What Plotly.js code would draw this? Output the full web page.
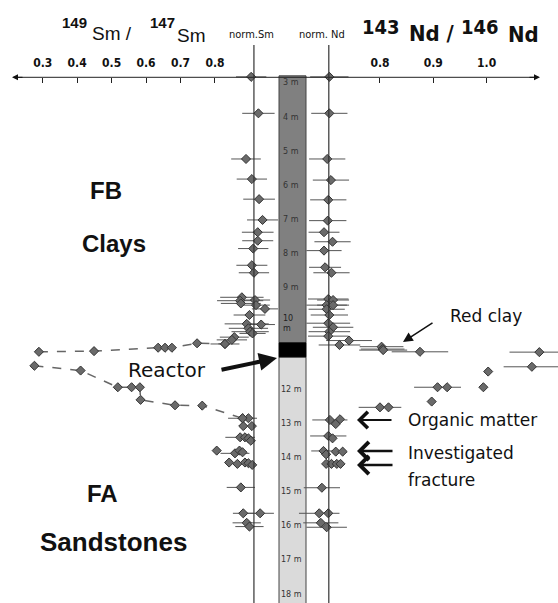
<!DOCTYPE html>
<html>
<head>
<meta charset="utf-8">
<script src="https://cdn.plot.ly/plotly-3.0.1.min.js"></script>
<style>html,body{margin:0;padding:0;background:#fff;}#chart{width:558px;height:603px;}</style>
</head>
<body>
<div id="chart"></div>
<script>
// ---------- DATA ----------
// 149Sm/147Sm measurements (depth in m, ratio, +/- error)
const smDepth = [2.82,3.89,5.23,5.82,6.41,7.02,7.38,7.63,7.86,8.35,8.57,
  9.29,9.39,9.37,9.47,9.52,9.63,9.81,10.07,10.09,10.20,10.30,10.35,10.46,10.54,10.66,
  12.84,12.84,13.07,13.07,13.40,13.40,13.43,13.50,13.79,13.87,13.79,13.84,14.14,14.18,14.14,14.16,14.21,14.87,15.63,15.63,15.91,16.02];
const smValue = [0.905,0.926,0.890,0.907,0.928,0.938,0.924,0.924,0.911,0.907,0.913,
  0.878,0.873,0.916,0.875,0.919,0.945,0.900,0.892,0.934,0.897,0.902,0.909,0.856,0.849,0.829,
  0.880,0.897,0.882,0.907,0.873,0.887,0.897,0.904,0.805,0.858,0.871,0.880,0.841,0.865,0.887,0.897,0.908,0.875,0.882,0.931,0.892,0.900];
const smErr = [0.044,0.047,0.043,0.044,0.046,0.045,0.046,0.045,0.044,0.045,0.044,
  0.063,0.067,0.044,0.058,0.040,0.038,0.046,0.064,0.040,0.057,0.054,0.038,0.042,0.044,0.042,
  0.042,0,0,0,0.043,0,0,0,0,0.042,0,0,0,0,0,0,0,0.041,0.03,0.04,0.041,0.041];
// reactor-zone Sm series (dashed)
const smReactorUpperDepth = [10.89,10.87,10.77,10.77,10.77,10.64,10.66];
const smReactorUpperValue = [0.289,0.449,0.635,0.655,0.675,0.748,0.829];
const smReactorLowerDepth = [11.30,11.44,11.93,11.93,11.93,12.30,12.46,12.47,12.84];
const smReactorLowerValue = [0.276,0.410,0.518,0.558,0.582,0.584,0.684,0.763,0.880];

// 143Nd/146Nd measurements
const ndDepth = [2.82,3.89,5.23,5.85,6.43,7.04,7.38,7.66,7.92,8.41,8.57,
  9.34,9.37,9.52,9.52,9.64,9.81,10.05,10.17,10.30,10.43,10.56,10.69,
  10.74,10.81,10.84,10.89,10.90,11.33,11.47,11.93,11.93,11.93,12.35,12.52,12.52,
  12.89,12.87,13.01,13.36,13.43,13.80,13.90,13.82,13.82,14.18,14.18,14.18,14.18,14.88,15.63,15.63,15.91,16.04];
const ndValue = [0.705,0.705,0.701,0.708,0.703,0.702,0.695,0.711,0.695,0.697,0.709,
  0.703,0.712,0.700,0.712,0.700,0.705,0.703,0.712,0.705,0.703,0.742,0.724,
  0.803,0.805,0.806,0.875,1.099,1.085,1.003,0.994,0.908,0.926,0.897,0.800,0.816,
  0.706,0.725,0.717,0.703,0.711,0.694,0.699,0.717,0.730,0.699,0.709,0.719,0.726,0.691,0.686,0.703,0.689,0.700];
const ndErr = [0.036,0.034,0.034,0.034,0.034,0.035,0.029,0.034,0.033,0.030,0.034,
  0.038,0.030,0.038,0.030,0.034,0.035,0.041,0.038,0.039,0.038,0.043,0.039,
  0.041,0.041,0.045,0.053,0.056,0.053,0,0,0.044,0,0,0.040,0,
  0.033,0,0,0.034,0,0.023,0,0,0,0,0,0,0,0.034,0.038,0,0.033,0.038];

const normSm = 0.913;   // normal Sm ratio (vertical line)
const normNd = 0.704;   // normal Nd ratio (vertical line)

const smTicks = [0.3,0.4,0.5,0.6,0.7,0.8];
const smTickText = ['0.3','0.4','0.5','0.6','0.7','0.8'];
const ndTicks = [0.8,0.9,1.0];
const ndTickText = ['0.8','0.9','1.0'];

const depthLabels = [3,4,5,6,7,8,9,12,13,14,15,16,17,18];
const columnTop = 2.79, reactorTop = 10.63, reactorBottom = 11.04, columnBottom = 18.4;

// ---------- LAYOUT HELPERS ----------
const W = 558, H = 603;
const px = x => x / W;           // pixel -> paper x
const py = y => 1 - y / H;       // pixel -> paper y
const axisY = py(77.3);

const markerStyle = {symbol:'diamond', size:7, color:'#6a6a6a', line:{color:'#333', width:1}};
const errStyle = {type:'data', symmetric:true, color:'#555', thickness:1, width:0};

const traces = [
  {x: smValue, y: smDepth, xaxis:'x', yaxis:'y', type:'scatter', mode:'markers',
   marker: markerStyle, error_x: Object.assign({array: smErr}, errStyle), cliponaxis:false, hoverinfo:'none'},
  {x: smReactorUpperValue, y: smReactorUpperDepth, xaxis:'x', yaxis:'y', type:'scatter', mode:'lines+markers',
   line:{color:'#666', width:1.5, dash:'dash'}, marker: markerStyle, hoverinfo:'none'},
  {x: smReactorLowerValue, y: smReactorLowerDepth, xaxis:'x', yaxis:'y', type:'scatter', mode:'lines+markers',
   line:{color:'#666', width:1.5, dash:'dash'}, marker: markerStyle, hoverinfo:'none'},
  {x: ndValue, y: ndDepth, xaxis:'x2', yaxis:'y', type:'scatter', mode:'markers',
   marker: markerStyle, error_x: Object.assign({array: ndErr}, errStyle), cliponaxis:false, hoverinfo:'none'}
];

const fCond = 'DejaVu Sans Condensed, Liberation Sans Narrow, sans-serif';
const tickFont = {family: fCond, size:12, color:'#111', weight:'bold'};
const axCommon = {domain:[0,1], anchor:'free', position: axisY, side:'top', showgrid:false, zeroline:false,
  showline:false, ticks:'inside', ticklen:5, tickwidth:1, tickcolor:'#222', tickfont: tickFont,
  ticklabelstandoff: 8, fixedrange:true};

const shapes = [
  // core column
  {type:'rect', xref:'paper', yref:'y', x0:px(279), x1:px(306), y0:columnTop, y1:reactorTop,
   fillcolor:'#808080', line:{color:'#444', width:1}, layer:'below'},
  {type:'rect', xref:'paper', yref:'y', x0:px(279), x1:px(306), y0:reactorBottom, y1:columnBottom,
   fillcolor:'#dadada', line:{color:'#444', width:1}, layer:'below'},
  {type:'rect', xref:'paper', yref:'y', x0:px(279), x1:px(306), y0:reactorTop, y1:reactorBottom,
   fillcolor:'#000', line:{color:'#000', width:1}, layer:'below'},
  // main horizontal axis line
  {type:'line', xref:'paper', yref:'paper', x0:px(14), x1:px(538), y0:axisY, y1:axisY, line:{color:'#222', width:1}},
  // normalisation lines
  {type:'line', xref:'x', yref:'paper', x0:normSm, x1:normSm, y0:py(45), y1:0, line:{color:'#333', width:1.2}},
  {type:'line', xref:'x2', yref:'paper', x0:normNd, x1:normNd, y0:py(45), y1:0, line:{color:'#333', width:1.2}}
];

const fArial = 'Liberation Sans, Arial, sans-serif';
const fVer = 'DejaVu Sans, Verdana, sans-serif';
function txt(x, y, text, size, opts) {
  return Object.assign({xref:'paper', yref:'paper', x:px(x), y:py(y), text:text, showarrow:false,
    xanchor:'center', yanchor:'middle', font:{family:fArial, size:size, color:'#111'}}, opts || {});
}
function arrow(hx, hy, tx, ty, w, head, size) {
  return {xref:'paper', yref:'paper', x:px(hx), y:py(hy), ax:tx-hx, ay:ty-hy, axref:'pixel', ayref:'pixel',
    text:'', showarrow:true, arrowhead:head, arrowsize:size, arrowwidth:w, arrowcolor:'#111', standoff:0, startstandoff:0};
}

const condBold = s => ({family:fCond, size:s, color:'#111', weight:'bold'});
const annotations = [
  txt(74, 22, '<b>149</b>', 15),
  txt(112, 34, 'Sm /', 19),
  txt(162, 22, '<b>147</b>', 15),
  txt(191, 36, 'Sm', 19),
  txt(381, 27, '143', 20, {font:condBold(20)}),
  txt(432, 34, 'Nd /', 22, {font:condBold(22)}),
  txt(480, 27, '146', 20, {font:condBold(20)}),
  txt(523, 35, 'Nd', 22, {font:condBold(22)}),
  txt(251, 35, 'norm.Sm', 11, {font:{family:fCond, size:11, color:'#111'}}),
  txt(322, 35, 'norm. Nd', 11, {font:{family:fCond, size:11, color:'#111'}}),
  txt(106, 190, '<b>FB</b>', 24),
  txt(114, 243, '<b>Clays</b>', 24),
  txt(102, 493, '<b>FA</b>', 24),
  txt(113, 542, '<b>Sandstones</b>', 26),
  txt(167, 370, 'Reactor', 20, {font:{family:fVer, size:20, color:'#111'}}),
  txt(448, 316, 'Red clay', 17, {xanchor:'left', font:{family:fVer, size:17, color:'#111'}}),
  txt(406, 420, 'Organic matter', 17, {xanchor:'left', font:{family:fVer, size:17, color:'#111'}}),
  txt(406, 453, 'Investigated', 17, {xanchor:'left', font:{family:fVer, size:17, color:'#111'}}),
  txt(406, 480, 'fracture', 17, {xanchor:'left', font:{family:fVer, size:17, color:'#111'}}),
  arrow(403, 342, 434, 322, 1.5, 2, 1.3),
  arrow(277, 358, 220, 370, 4, 2, 0.9),
  arrow(357, 420, 393, 420, 2, 4, 1.6),
  arrow(357, 451, 394, 451, 2.5, 4, 1.4),
  arrow(357, 465, 394, 465, 2.5, 4, 1.4),
  arrow(12, 77.3, 24, 77.3, 1, 2, 1.2),
  arrow(540, 77.3, 528, 77.3, 1, 2, 1.2)
];
depthLabels.forEach(d => {
  annotations.push({xref:'paper', yref:'y', x:px(291), y:d, text:d + ' m', showarrow:false,
    xanchor:'center', yanchor:'middle', font:{family:fVer, size:8, color:'#333'}});
});
annotations.push({xref:'paper', yref:'y', x:px(281), y:10.05, text:'10<br>m', showarrow:false,
  xanchor:'left', yanchor:'middle', align:'left', font:{family:fVer, size:8, color:'#222'}});

const layout = {
  width: W, height: H, margin:{l:0, r:0, t:0, b:0},
  paper_bgcolor:'#fff', plot_bgcolor:'#fff', showlegend:false,
  xaxis: Object.assign({range:[0.1761, 1.7954], tickvals: smTicks, ticktext: smTickText}, axCommon),
  xaxis2: Object.assign({range:[0.0871, 1.134], tickvals: ndTicks, ticktext: ndTickText, overlaying:'x'}, axCommon),
  yaxis: {range:[18.263, 0.564], visible:false, domain:[0,1], fixedrange:true},
  shapes: shapes,
  annotations: annotations
};

Plotly.newPlot('chart', traces, layout, {staticPlot:true, displayModeBar:false});
</script>
</body>
</html>
